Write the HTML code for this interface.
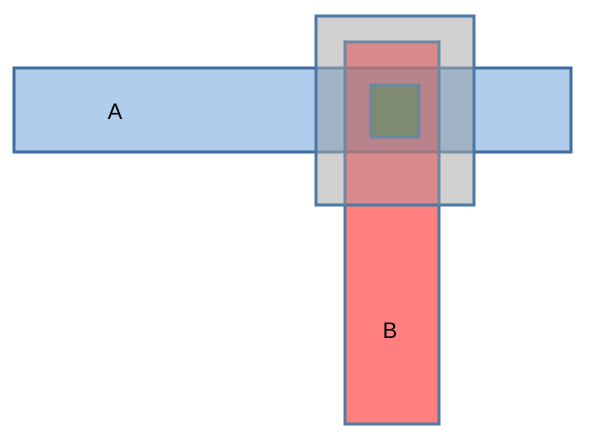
<!DOCTYPE html>
<html><head><style>html,body{margin:0;padding:0;background:#fff;width:616px;height:439px;overflow:hidden}</style></head>
<body>
<svg width="616" height="439" xmlns="http://www.w3.org/2000/svg">
<rect x="14" y="68" width="557" height="84" fill="#b0cdeb"/>
<rect x="316" y="16" width="158" height="189" fill="#d0d0d0"/>
<rect x="316" y="68" width="158" height="84" fill="#a1b4c5"/>
<rect x="345" y="205" width="94" height="219" fill="#ff7f7f"/>
<rect x="345" y="42" width="94" height="163" fill="#d98b8b"/>
<rect x="345" y="68" width="94" height="84" fill="#b8838b"/>
<rect x="14" y="68" width="557" height="84" fill="none" stroke="#3f6e9e" stroke-width="3"/>
<line x1="316" y1="68" x2="474" y2="68" stroke="#7a8fa5" stroke-width="3"/>
<line x1="316" y1="152" x2="474" y2="152" stroke="#7a8fa5" stroke-width="3"/>
<line x1="345" y1="68" x2="439" y2="68" stroke="#a07480" stroke-width="3"/>
<line x1="345" y1="152" x2="439" y2="152" stroke="#a07480" stroke-width="3"/>
<rect x="316" y="16" width="158" height="189" fill="none" stroke="#4a79a8" stroke-width="3"/>
<rect x="345" y="42" width="94" height="382" fill="none" stroke="#4f7ba3" stroke-width="3"/>
<line x1="345" y1="42" x2="345" y2="205" stroke="#6d88a0" stroke-width="3"/>
<line x1="439" y1="42" x2="439" y2="205" stroke="#6d88a0" stroke-width="3"/>
<line x1="345" y1="42" x2="439" y2="42" stroke="#6d88a0" stroke-width="3"/>
<rect x="371" y="85" width="48" height="52" fill="#7f8b70" stroke="#6a88a2" stroke-width="3"/>
<text x="115" y="119" font-family="Liberation Sans, sans-serif" font-size="22" text-anchor="middle" fill="#000">A</text>
<text x="390" y="338" font-family="Liberation Sans, sans-serif" font-size="22" text-anchor="middle" fill="#000">B</text>
</svg>
</body></html>
